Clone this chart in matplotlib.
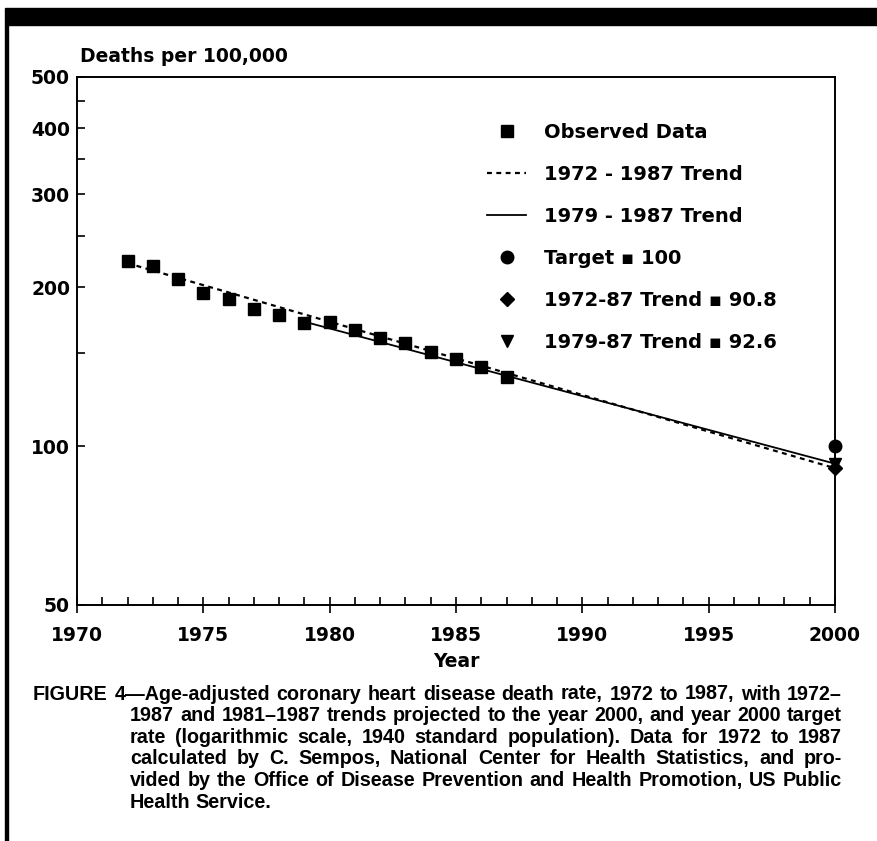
import matplotlib
matplotlib.use('Agg')
import matplotlib.pyplot as plt
import numpy as np
from matplotlib.patches import Rectangle
from matplotlib.ticker import FixedLocator, FixedFormatter, NullFormatter

# observed age-adjusted CHD death rates (per 100,000)
years = [1972, 1973, 1974, 1975, 1976, 1977, 1978, 1979,
         1980, 1981, 1982, 1983, 1984, 1985, 1986, 1987]
rates = [224, 219, 207, 195, 190, 182, 177, 171,
         172, 166, 160, 157, 151, 146, 141, 135]

# trend lines projected to 2000 (start / end)
trend_7287_years = [1972, 2000]
trend_7287_vals = [222, 90.8]
trend_7987_years = [1979, 2000]
trend_7987_vals = [172, 92.6]

# year 2000 points
target_year = 2000
target_val = 100
proj_7287_val = 90.8
proj_7987_val = 92.6

ytick_major = [50, 100, 200, 300, 400, 500]
ytick_minor = [150, 250, 350, 450]

caption_lines = [
    "FIGURE 4\u2014Age-adjusted coronary heart disease death rate, 1972 to 1987, with 1972\u2013",
    "1987 and 1981\u20131987 trends projected to the year 2000, and year 2000 target",
    "rate (logarithmic scale, 1940 standard population). Data for 1972 to 1987",
    "calculated by C. Sempos, National Center for Health Statistics, and pro-",
    "vided by the Office of Disease Prevention and Health Promotion, US Public",
    "Health Service.",
]

W, H = 877, 841
plt.rcParams['font.family'] = ['DejaVu Sans']
cap_font = ['Liberation Sans', 'DejaVu Sans']

fig = plt.figure(figsize=(W / 100, H / 100), dpi=100)
ax = fig.add_axes([77 / W, 1 - 605 / H, (835 - 77) / W, (605 - 77) / H])

# page decorations: black bar at top, rule on the left
fig.patches.append(Rectangle((5 / W, 1 - 25 / H), 1 - 5 / W, 17 / H,
                             transform=fig.transFigure, color='black'))
fig.patches.append(Rectangle((5 / W, 0), 3 / W, 1 - 25 / H,
                             transform=fig.transFigure, color='black'))

ax.plot(trend_7287_years, trend_7287_vals, color='black', lw=1.6,
        ls=(0, (2.2, 2.0)), label='1972 - 1987 Trend')
ax.plot(trend_7987_years, trend_7987_vals, color='black', lw=1.3,
        ls='-', label='1979 - 1987 Trend')
ax.plot(years, rates, ls='none', marker='s', ms=9, color='black',
        label='Observed Data')
ax.plot([target_year], [target_val], ls='none', marker='o', ms=9,
        color='black', clip_on=False, label='Target \u25aa 100')
ax.plot([target_year], [proj_7287_val], ls='none', marker='D', ms=7.5,
        color='black', clip_on=False, label='1972-87 Trend \u25aa 90.8')
ax.plot([target_year], [proj_7987_val], ls='none', marker='v', ms=8,
        color='black', clip_on=False, label='1979-87 Trend \u25aa 92.6')

ax.set_yscale('log')
ax.set_ylim(50, 500)
ax.set_xlim(1970, 2000)
ax.yaxis.set_major_locator(FixedLocator(ytick_major))
ax.yaxis.set_minor_locator(FixedLocator(ytick_minor))
ax.yaxis.set_major_formatter(FixedFormatter([str(v) for v in ytick_major]))
ax.yaxis.set_minor_formatter(NullFormatter())
ax.xaxis.set_major_locator(FixedLocator(np.arange(1970, 2001, 5)))
ax.xaxis.set_minor_locator(FixedLocator(np.arange(1970, 2001, 1)))

ax.tick_params(axis='y', which='both', direction='in', length=6, width=1.2,
               labelsize=13.5, pad=5)
ax.tick_params(axis='x', which='major', direction='inout', length=12, width=1.2,
               labelsize=13.5, pad=9)
ax.tick_params(axis='x', which='minor', direction='in', length=6, width=1.2)
for lab in ax.get_xticklabels() + ax.get_yticklabels():
    lab.set_fontweight('bold')
for s in ax.spines.values():
    s.set_linewidth(1.4)

ax.set_xlabel('Year', fontsize=13.5, fontweight='bold', labelpad=5)
ax.text(0.004, 1.038, 'Deaths per 100,000', transform=ax.transAxes,
        fontsize=13.5, fontweight='bold', va='center', ha='left')

handles, labels = ax.get_legend_handles_labels()
order = [2, 0, 1, 3, 4, 5]
leg = ax.legend([handles[i] for i in order], [labels[i] for i in order],
                loc='upper left', bbox_to_anchor=(0.541, 0.913), frameon=False,
                prop={'weight': 'bold', 'size': 14},
                handlelength=2.0, handletextpad=0.95, labelspacing=1.18,
                borderpad=0, borderaxespad=0, numpoints=1)

# justified caption
renderer = fig.canvas.get_renderer()
right_edge = 842
y0 = 694
for i, line in enumerate(caption_lines):
    x_left = 33 if i == 0 else 130
    y = 1 - (y0 + 21.6 * i) / H
    words = line.split(' ')
    texts = [fig.text(0, y, w, family=cap_font, fontsize=14.2,
                      fontweight='bold', va='center', ha='left') for w in words]
    widths = [t.get_window_extent(renderer).width for t in texts]
    if i < len(caption_lines) - 1:
        gap = (right_edge - x_left - sum(widths)) / (len(words) - 1)
    else:
        gap = 4.5
    x = x_left
    for t, wd in zip(texts, widths):
        t.set_x(x / W)
        x += wd + gap

fig.savefig('out.png', dpi=100)
